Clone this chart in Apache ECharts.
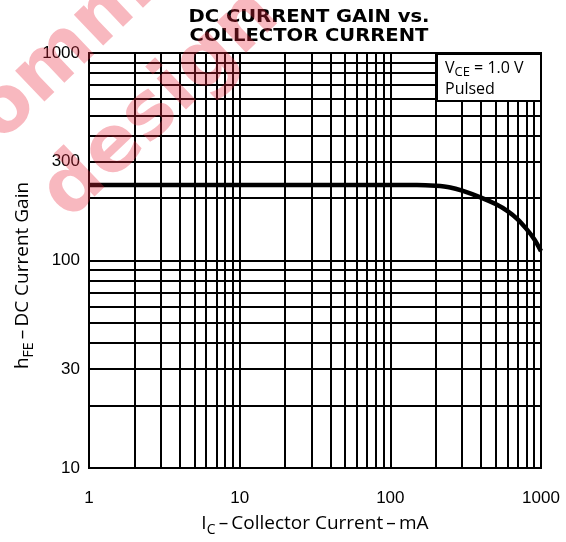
<!DOCTYPE html>
<html>
<head>
<meta charset="utf-8">
<script src="https://cdn.jsdelivr.net/npm/echarts@6/dist/echarts.min.js"></script>
<style>
  html, body { margin: 0; padding: 0; background: #fff; }
  #chart { width: 566px; height: 542px; }
</style>
</head>
<body>
<div id="chart"></div>
<script>
// data
const currentMA = [1, 10, 100, 150, 200, 250, 300, 400, 500, 600, 700, 800, 900, 1000];
const hfe = [231, 231, 231, 231, 229, 225, 217, 201, 187, 173, 158, 142, 127, 111];

// tick labels
const xTicks = [1, 10, 100, 1000];
const yTicks = [10, 30, 100, 300, 1000];

// log paper lines: 1..9 in every decade
const decadeSteps = [1, 2, 3, 4, 5, 6, 7, 8, 9];
const xLines = [];
[1, 10, 100].forEach(d => decadeSteps.forEach(s => { if (d * s > 1) xLines.push(d * s) }));
const yLines = [];
[10, 100].forEach(d => decadeSteps.forEach(s => { if (d * s > 10) yLines.push(d * s) }));

const numFont = 'Liberation Sans';
const nameFont = 'Open Sans';

// rich styles for subscripts
const nameRich = {
    b: { fontFamily: nameFont, fontSize: 19, color: '#000', lineHeight: 26, verticalAlign: 'middle' },
    sub: { fontFamily: nameFont, fontSize: 14, color: '#000', lineHeight: 26, verticalAlign: 'bottom' }
};

var myChart = echarts.init(document.getElementById('chart'));

var option = {
    animation: false,
    grid: {
        left: 89, top: 53, right: 25, bottom: 74,
        show: true,
        borderColor: '#000',
        borderWidth: 2,
        backgroundColor: 'transparent'
    },
    xAxis: {
        type: 'log',
        logBase: 10,
        min: 1,
        max: 1000,
        axisLine: { show: false },
        axisTick: { show: false },
        splitLine: { show: false },
        axisLabel: {
            customValues: xTicks,
            formatter: v => String(v),
            margin: 22,
            fontFamily: numFont,
            fontSize: 17,
            color: '#000'
        },
        name: '{b|I}{sub|C}{b|\u2009\u2013\u2009Collector Current\u2009\u2013\u2009mA}',
        nameLocation: 'middle',
        nameGap: 43,
        nameTextStyle: { rich: nameRich }
    },
    yAxis: {
        type: 'log',
        logBase: 10,
        min: 10,
        max: 1000,
        axisLine: { show: false },
        axisTick: { show: false },
        splitLine: { show: false },
        axisLabel: {
            customValues: yTicks,
            formatter: v => String(v),
            margin: 9,
            fontFamily: numFont,
            fontSize: 17,
            color: '#000'
        },
        name: '{b|h}{sub|FE}{b|\u2009\u2013\u2009DC Current Gain}',
        nameLocation: 'middle',
        nameRotate: 90,
        nameGap: 53,
        nameMoveOverlap: false,
        nameTextStyle: { rich: nameRich, padding: [0, 30, 0, 0] }
    },
    series: [
        {
            // grid lines of the log paper
            name: 'paper',
            type: 'line',
            data: [],
            z: 1,
            silent: true,
            markLine: {
                silent: true,
                symbol: ['none', 'none'],
                label: { show: false },
                lineStyle: { color: '#000', width: 2, type: 'solid' },
                emphasis: { disabled: true },
                data: [
                    ...xLines.map(v => ({ xAxis: v })),
                    ...yLines.map(v => ({ yAxis: v }))
                ]
            }
        },
        {
            name: 'hFE',
            type: 'line',
            z: 5,
            smooth: 0.3,
            showSymbol: false,
            symbol: 'none',
            lineStyle: { color: '#000', width: 4.5 },
            data: currentMA.map((c, i) => [c, hfe[i]])
        }
    ],
    graphic: [
        {
            // title, a bit stretched like the original lettering
            type: 'text',
            x: 309,
            y: 8,
            scaleX: 1.15,
            z: 60,
            style: {
                text: 'DC CURRENT GAIN vs.\nCOLLECTOR CURRENT',
                font: 'bold 17px "DejaVu Sans"',
                lineHeight: 19,
                align: 'center',
                verticalAlign: 'top',
                fill: '#000'
            }
        },
        {
            type: 'rect',
            z: 100,
            shape: { x: 437, y: 54, width: 104, height: 47 },
            style: { fill: '#fff', stroke: '#000', lineWidth: 2 }
        },
        {
            type: 'text',
            z: 101,
            x: 445,
            y: 58,
            style: {
                text: '{b|V}{sub|CE}{b| = 1.0 V}\n{b|Pulsed}',
                rich: {
                    b: { fontFamily: nameFont, fontSize: 16, fill: '#000', lineHeight: 21, verticalAlign: 'middle' },
                    sub: { fontFamily: nameFont, fontSize: 13, fill: '#000', lineHeight: 21, verticalAlign: 'bottom' }
                }
            }
        },
        {
            // watermark
            type: 'text',
            x: 28,
            y: 178,
            rotation: 0.76,
            z: 200,
            silent: true,
            style: {
                text: 'design',
                font: 'bold 78px "DejaVu Sans"',
                fill: 'rgba(235,40,60,0.33)'
            }
        },
        {
            type: 'text',
            x: -40,
            y: 100,
            rotation: 0.76,
            z: 200,
            silent: true,
            style: {
                text: 'omm',
                font: 'bold 78px "DejaVu Sans"',
                fill: 'rgba(235,40,60,0.33)'
            }
        }
    ]
};

myChart.setOption(option);
</script>
</body>
</html>
